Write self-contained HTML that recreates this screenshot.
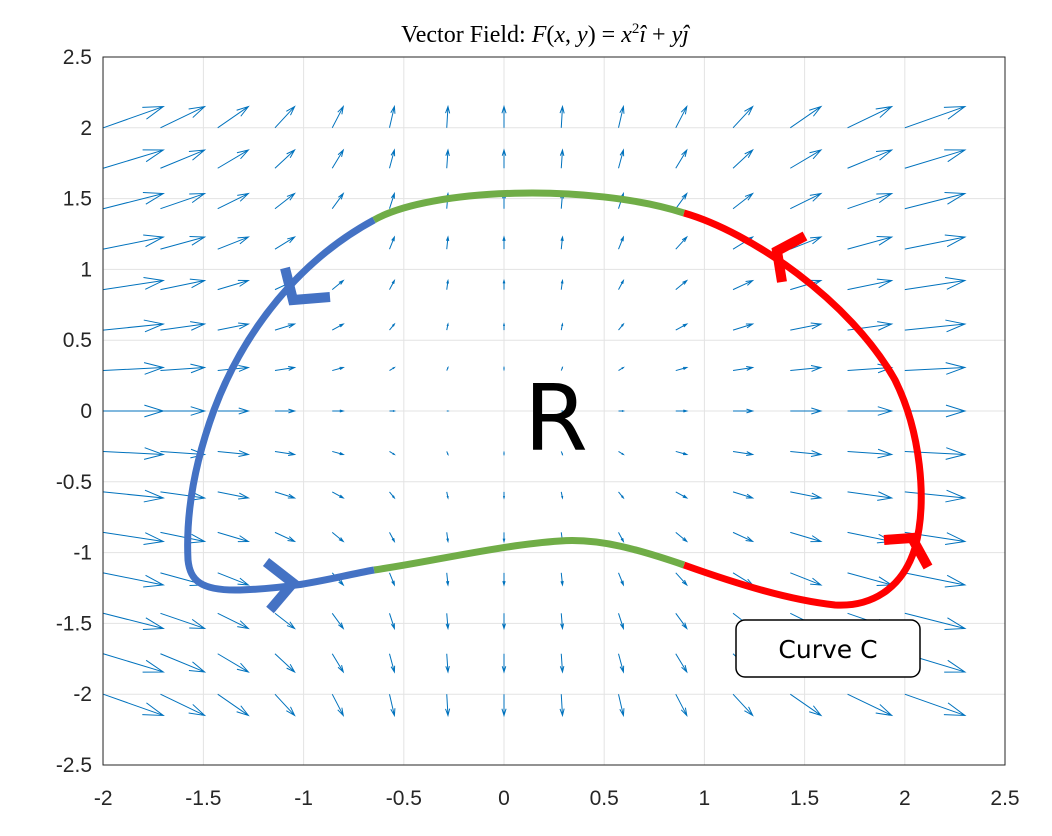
<!DOCTYPE html>
<html><head><meta charset="utf-8"><style>
body{margin:0;background:#fff;}
svg{display:block;font-family:"Liberation Sans",sans-serif;}
</style></head><body>
<svg id="chart" width="1052" height="836" viewBox="0 0 1052 836">
<rect x="0" y="0" width="1052" height="836" fill="#fff"/>
<g id="grid"></g>
<g id="quiver"></g>
<g fill="none" stroke-width="7" stroke-linecap="butt">
<path stroke="#70ad47" d="M374,220 C430,188 590,183 684,213"/>
<path stroke="#ff0000" d="M684,213 C750,232 850,300 895,380 C920,430 928,500 915,548 C902,590 870,607 835,605 C790,600 740,585 684,565"/>
<path stroke="#70ad47" d="M684,565 C640,550 600,538 560,541 C500,545 430,562 374,570"/>
<path stroke="#4472c4" d="M374,570 C330,578 300,588 240,590 C200,591 190,580 188,560 C186,520 192,470 214,410 C244,330 300,260 374,220"/>
<g stroke-width="10" stroke-linejoin="miter" stroke-miterlimit="10">
<polyline stroke="#4472c4" points="285,268 293,300 330,297"/>
<polyline stroke="#4472c4" points="266,562 293,583 270,610"/>
<polyline stroke="#ff0000" points="805,236 777,251 782,282"/>
<polyline stroke="#ff0000" points="884,540 912,538 928,567"/>
</g>
</g>
<rect x="103" y="57" width="902" height="708" fill="none" stroke="#262626" stroke-width="1"/>
<g id="ticks" font-size="21" fill="#262626"></g>
<text x="545" y="42" text-anchor="middle" font-family="'Liberation Serif',serif" font-size="24">Vector Field:  <tspan font-style="italic">F</tspan>(<tspan font-style="italic">x</tspan>, <tspan font-style="italic">y</tspan>) = <tspan font-style="italic">x</tspan><tspan font-size="15" dy="-9">2</tspan><tspan dy="9" font-style="italic">î</tspan> + <tspan font-style="italic">yĵ</tspan></text>
<text x="556" y="450" text-anchor="middle" font-family="'DejaVu Sans',sans-serif" font-size="92">R</text>
<rect x="736" y="620" width="184" height="57" rx="9" fill="#fff" stroke="#000" stroke-width="1.5"/>
<text x="828" y="658" text-anchor="middle" font-family="'DejaVu Sans',sans-serif" font-size="25">Curve C</text>
</svg>
<script>
const xTicks=[-2,-1.5,-1,-0.5,0,0.5,1,1.5,2,2.5];
const yTicks=[2.5,2,1.5,1,0.5,0,-0.5,-1,-1.5,-2,-2.5];
const gridX=[-2,-1.7143,-1.4286,-1.1429,-0.8571,-0.5714,-0.2857,0,0.2857,0.5714,0.8571,1.1429,1.4286,1.7143,2];
const gridY=[-2,-1.7143,-1.4286,-1.1429,-0.8571,-0.5714,-0.2857,0,0.2857,0.5714,0.8571,1.1429,1.4286,1.7143,2];
const arrowScale=0.075;
const NS='http://www.w3.org/2000/svg';
function X(v){return 504+200.4*v;}
function Y(v){return 411-141.6*v;}
const grid=document.getElementById('grid');
const ticks=document.getElementById('ticks');
xTicks.forEach(t=>{
  const l=document.createElementNS(NS,'line');
  
  
  l.setAttribute('x1',X(t));l.setAttribute('x2',X(t));l.setAttribute('y1',57);l.setAttribute('y2',765);
  l.setAttribute('stroke','#e3e3e3');grid.appendChild(l);
  const tx=document.createElementNS(NS,'text');
  
  
  tx.setAttribute('x',X(t));tx.setAttribute('y',805);tx.setAttribute('text-anchor','middle');
  tx.textContent=String(t);ticks.appendChild(tx);
});
yTicks.forEach(t=>{
  const l=document.createElementNS(NS,'line');
  
  
  l.setAttribute('x1',103);l.setAttribute('x2',1005);l.setAttribute('y1',Y(t));l.setAttribute('y2',Y(t));
  l.setAttribute('stroke','#e3e3e3');grid.appendChild(l);
  const tx=document.createElementNS(NS,'text');
  
  
  tx.setAttribute('x',92);tx.setAttribute('y',Y(t)+7);tx.setAttribute('text-anchor','end');
  tx.textContent=String(t);ticks.appendChild(tx);
});
const q=document.getElementById('quiver');
gridX.forEach(x=>{gridY.forEach(y=>{
  const u=x*x*arrowScale, v=y*arrowScale;
  const x1=X(x),y1=Y(y),x2=X(x+u),y2=Y(y+v);
  const dx=x2-x1,dy=y2-y1,len=Math.hypot(dx,dy);
  if(len<0.5)return;
  const g=document.createElementNS(NS,'path');
  
  
  const h=len*0.33,a=Math.atan2(dy,dx),s=0.3;
  const hx1=x2-h*Math.cos(a-s),hy1=y2-h*Math.sin(a-s);
  const hx2=x2-h*Math.cos(a+s),hy2=y2-h*Math.sin(a+s);
  g.setAttribute('d',`M${x1},${y1}L${x2},${y2}M${hx1},${hy1}L${x2},${y2}L${hx2},${hy2}`);
  g.setAttribute('stroke','#0072bd');g.setAttribute('stroke-width','1');g.setAttribute('fill','none');
  q.appendChild(g);
});});
</script>
</body></html>
